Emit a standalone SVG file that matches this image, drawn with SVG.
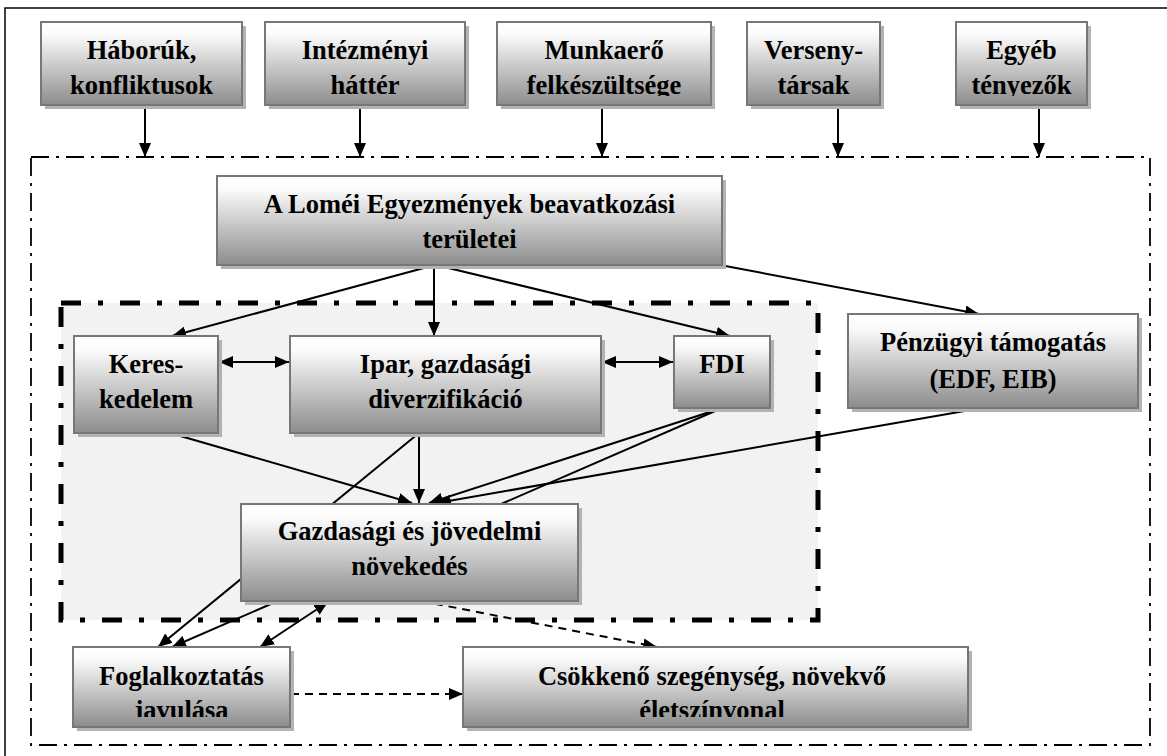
<svg xmlns="http://www.w3.org/2000/svg" width="1167" height="756" viewBox="0 0 1167 756">
<style>
.shadow{fill:#b3b3b3;}
.box{fill:url(#g);stroke:#777;stroke-width:2;}
.t{font-family:"Liberation Serif","Times New Roman",serif;font-weight:bold;font-size:26.5px;fill:#000;text-anchor:middle;}
.ln{stroke:#000;stroke-width:2;fill:none;}
.dash{stroke-dasharray:8 6;}
.outer{fill:none;stroke:#000;stroke-width:1.8;stroke-dasharray:18 7 3 7;}
.inner{fill:#f2f2f2;stroke:#000;stroke-width:5;stroke-dasharray:20 17 5 17;}
</style>
<defs>
<linearGradient id="g" x1="0" y1="0" x2="0" y2="1">
<stop offset="0" stop-color="#ffffff"/>
<stop offset="0.15" stop-color="#fbfbfb"/>
<stop offset="1" stop-color="#8c8c8c"/>
</linearGradient>
<marker id="ah" viewBox="0 0 14 12" refX="14" refY="6" markerWidth="14" markerHeight="12" markerUnits="userSpaceOnUse" orient="auto-start-reverse">
<path d="M0,0 L14,6 L0,12 z" fill="#000"/>
</marker>
<clipPath id="clipTop"><rect x="0" y="0" width="1167" height="96"/></clipPath>
<clipPath id="clipBot"><rect x="0" y="0" width="1167" height="717"/></clipPath>
</defs>
<rect width="1167" height="756" fill="#fff"/>
<g id="frames">
<path d="M5,757 L5,8 L1168,8" fill="none" stroke="#000" stroke-width="1.5"/>
<rect class="outer" x="31" y="157" width="1119" height="588"/>
<rect class="inner" x="61" y="303" width="757" height="317"/>
</g>
<g id="connectors">
<line class="ln" x1="145" y1="105" x2="145" y2="157" marker-end="url(#ah)"/>
<line class="ln" x1="360" y1="105" x2="360" y2="157" marker-end="url(#ah)"/>
<line class="ln" x1="602" y1="105" x2="602" y2="157" marker-end="url(#ah)"/>
<line class="ln" x1="838" y1="105" x2="838" y2="157" marker-end="url(#ah)"/>
<line class="ln" x1="1039" y1="105" x2="1039" y2="157" marker-end="url(#ah)"/>
<line class="ln" x1="435" y1="265" x2="172" y2="336" marker-end="url(#ah)"/>
<line class="ln" x1="434" y1="265" x2="434" y2="336" marker-end="url(#ah)"/>
<line class="ln" x1="436" y1="265" x2="730" y2="336" marker-end="url(#ah)"/>
<line class="ln" x1="720" y1="265" x2="979" y2="314" marker-end="url(#ah)"/>
<line class="ln" x1="219" y1="362" x2="289" y2="362" marker-start="url(#ah)" marker-end="url(#ah)"/>
<line class="ln" x1="602" y1="362" x2="673" y2="362" marker-start="url(#ah)" marker-end="url(#ah)"/>
<line class="ln" x1="170" y1="433" x2="412" y2="503" marker-end="url(#ah)"/>
<line class="ln" x1="419" y1="433" x2="419" y2="503" marker-end="url(#ah)"/>
<line class="ln" x1="722" y1="408" x2="429" y2="503" marker-end="url(#ah)"/>
<line class="ln" x1="982" y1="408" x2="437" y2="503" marker-end="url(#ah)"/>
<line class="ln" x1="419" y1="433" x2="158" y2="647" marker-end="url(#ah)"/>
<line class="ln" x1="722" y1="408" x2="172" y2="647" marker-end="url(#ah)"/>
<line class="ln" x1="328" y1="602" x2="260" y2="647" marker-start="url(#ah)" marker-end="url(#ah)"/>
<line class="ln dash" x1="421" y1="601" x2="657" y2="647" marker-end="url(#ah)"/>
<line class="ln dash" x1="291" y1="694" x2="463" y2="694" marker-end="url(#ah)"/>
</g>
<g id="n-haboruk">
<rect class="shadow" x="45" y="26" width="201" height="83"/>
<rect class="box" x="41" y="22" width="201" height="83"/>
<text class="t" clip-path="url(#clipTop)"><tspan x="141.5" y="59">Háborúk,</tspan><tspan x="141.5" y="94">konfliktusok</tspan></text>
</g>
<g id="n-intezmenyi">
<rect class="shadow" x="269" y="26" width="200" height="83"/>
<rect class="box" x="265" y="22" width="200" height="83"/>
<text class="t" clip-path="url(#clipTop)"><tspan x="365" y="59">Intézményi</tspan><tspan x="365" y="94">háttér</tspan></text>
</g>
<g id="n-munkaero">
<rect class="shadow" x="501" y="26" width="214" height="83"/>
<rect class="box" x="497" y="22" width="214" height="83"/>
<text class="t" clip-path="url(#clipTop)"><tspan x="604" y="59">Munkaerő</tspan><tspan x="604" y="94">felkészültsége</tspan></text>
</g>
<g id="n-verseny">
<rect class="shadow" x="751" y="26" width="133" height="83"/>
<rect class="box" x="747" y="22" width="133" height="83"/>
<text class="t" clip-path="url(#clipTop)"><tspan x="813.5" y="59">Verseny-</tspan><tspan x="813.5" y="94">társak</tspan></text>
</g>
<g id="n-egyeb">
<rect class="shadow" x="960" y="26" width="131" height="83"/>
<rect class="box" x="956" y="22" width="131" height="83"/>
<text class="t" clip-path="url(#clipTop)"><tspan x="1021.5" y="59">Egyéb</tspan><tspan x="1021.5" y="94">tényezők</tspan></text>
</g>
<g id="n-lomei">
<rect class="shadow" x="221" y="180" width="505" height="89"/>
<rect class="box" x="217" y="176" width="505" height="89"/>
<text class="t"><tspan x="469.5" y="213">A Loméi Egyezmények beavatkozási</tspan><tspan x="469.5" y="248">területei</tspan></text>
</g>
<g id="n-keres">
<rect class="shadow" x="78" y="340" width="144" height="97"/>
<rect class="box" x="74" y="336" width="144" height="97"/>
<text class="t"><tspan x="146" y="373">Keres-</tspan><tspan x="146" y="408">kedelem</tspan></text>
</g>
<g id="n-ipar">
<rect class="shadow" x="294" y="340" width="311" height="97"/>
<rect class="box" x="290" y="336" width="311" height="97"/>
<text class="t"><tspan x="445.5" y="373">Ipar, gazdasági</tspan><tspan x="445.5" y="408">diverzifikáció</tspan></text>
</g>
<g id="n-fdi">
<rect class="shadow" x="678" y="340" width="96" height="72"/>
<rect class="box" x="674" y="336" width="96" height="72"/>
<text class="t" x="722" y="373">FDI</text>
</g>
<g id="n-penzugyi">
<rect class="shadow" x="852" y="318" width="290" height="94"/>
<rect class="box" x="848" y="314" width="290" height="94"/>
<text class="t"><tspan x="993" y="351">Pénzügyi támogatás</tspan><tspan x="993" y="388">(EDF, EIB)</tspan></text>
</g>
<g id="n-gazdasagi">
<rect class="shadow" x="245" y="508" width="337" height="97"/>
<rect class="box" x="241" y="504" width="337" height="97"/>
<text class="t"><tspan x="409.5" y="540">Gazdasági és jövedelmi</tspan><tspan x="409.5" y="575">növekedés</tspan></text>
</g>
<g id="n-foglalk">
<rect class="shadow" x="77" y="651" width="217" height="80"/>
<rect class="box" x="73" y="647" width="217" height="80"/>
<text class="t" clip-path="url(#clipBot)"><tspan x="181.5" y="685">Foglalkoztatás</tspan><tspan x="181.5" y="719">javulása</tspan></text>
</g>
<g id="n-csokkeno">
<rect class="shadow" x="467" y="651" width="505" height="80"/>
<rect class="box" x="463" y="647" width="505" height="80"/>
<text class="t" clip-path="url(#clipBot)"><tspan x="712" y="685">Csökkenő szegénység, növekvő</tspan><tspan x="712" y="719">életszínvonal</tspan></text>
</g>
</svg>
